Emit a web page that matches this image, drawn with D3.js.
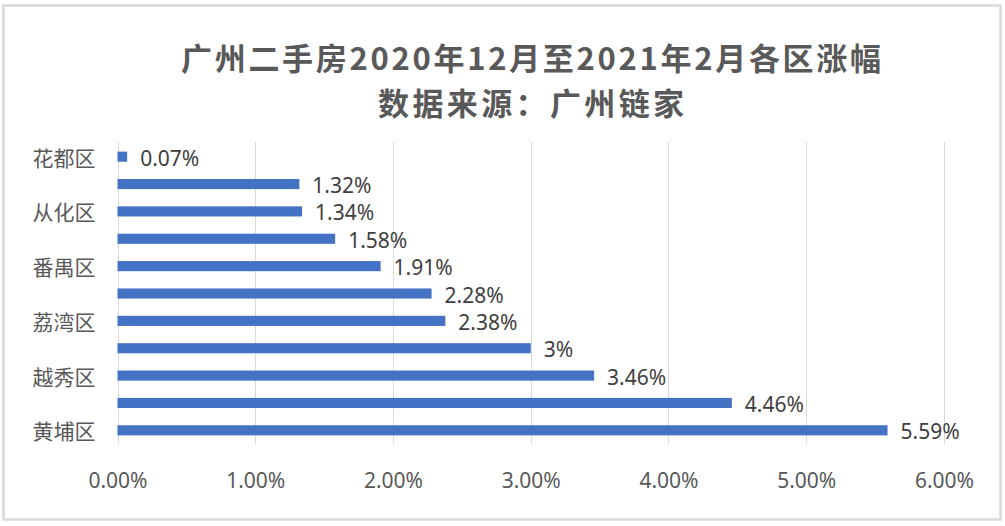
<!DOCTYPE html>
<html>
<head>
<meta charset="utf-8">
<script src="https://cdn.jsdelivr.net/npm/d3@7"></script>
<style>
  html, body { margin: 0; padding: 0; background: #fff; }
  svg { display: block; }
</style>
</head>
<body>
<svg id="chart" width="1005" height="526"></svg>
<script>
// ---- data ----
const categories = ['花都区','增城区','从化区','南沙区','番禺区','白云区','荔湾区','海珠区','越秀区','天河区','黄埔区'];
const shownCategories = ['花都区','从化区','番禺区','荔湾区','越秀区','黄埔区'];
const values = [0.07, 1.32, 1.34, 1.58, 1.91, 2.28, 2.38, 3, 3.46, 4.46, 5.59];
const valueLabels = ['0.07%','1.32%','1.34%','1.58%','1.91%','2.28%','2.38%','3%','3.46%','4.46%','5.59%'];
const tickValues = [0, 1, 2, 3, 4, 5, 6];
const tickLabels = ['0.00%','1.00%','2.00%','3.00%','4.00%','5.00%','6.00%'];
const titleLines = ['广州二手房2020年12月至2021年2月各区涨幅', '数据来源：广州链家'];
const titleWidths = [700, 306];

// ---- layout ----
const svg = d3.select('#chart');
const plot = { left: 117.5, right: 944, top: 143, bottom: 444 };
const textFont = '"Noto Sans", "Noto Sans CJK SC", sans-serif';

// border
svg.append('rect')
  .attr('x', 3.5).attr('y', 5.5).attr('width', 997).attr('height', 514)
  .attr('fill', '#fff').attr('stroke', '#d9d9d9').attr('stroke-width', 2.5);

// title
svg.append('g').selectAll('text').data(titleLines).join('text')
  .attr('x', 531)
  .attr('y', (d, i) => 56 + i * 45)
  .attr('text-anchor', 'middle')
  .attr('dominant-baseline', 'central')
  .attr('font-family', '"Noto Sans CJK SC", sans-serif')
  .attr('font-weight', 'bold')
  .attr('font-size', 31)
  .attr('textLength', (d, i) => titleWidths[i])
  .attr('lengthAdjust', 'spacing')
  .attr('fill', '#595959')
  .text(d => d);

const x = d3.scaleLinear().domain([0, 6]).range([plot.left, plot.right]);
const y = d3.scaleBand().domain(categories).range([plot.top, plot.bottom])
  .paddingInner(0.63).paddingOuter(0.315);

// gridlines
svg.append('g').selectAll('line').data(tickValues).join('line')
  .attr('x1', d => Math.round(x(d)) + 0.5).attr('x2', d => Math.round(x(d)) + 0.5)
  .attr('y1', plot.top - 1).attr('y2', plot.bottom)
  .attr('stroke', '#d9d9d9').attr('stroke-width', 1);

// x axis labels
const xAxis = d3.axisBottom(x).tickValues(tickValues)
  .tickFormat((d, i) => tickLabels[i]).tickSize(0).tickPadding(0);
const gx = svg.append('g').attr('transform', `translate(0, ${plot.bottom + 36})`).call(xAxis);
gx.select('.domain').remove();
gx.selectAll('text')
  .attr('dy', null)
  .attr('y', 0)
  .attr('dominant-baseline', 'central')
  .attr('font-family', textFont).attr('font-size', 21).attr('fill', '#595959');

// y axis labels (every other category shown)
const yAxis = d3.axisLeft(y).tickSize(0).tickPadding(0)
  .tickFormat(d => shownCategories.includes(d) ? d : '');
const gy = svg.append('g').attr('transform', `translate(${plot.left - 22}, 0)`).call(yAxis);
gy.select('.domain').remove();
gy.selectAll('text')
  .attr('dy', null)
  .attr('x', 0)
  .attr('dominant-baseline', 'central')
  .attr('font-family', '"Noto Sans CJK SC", sans-serif').attr('font-size', 21).attr('fill', '#595959');

// bars
svg.append('g').selectAll('rect').data(categories).join('rect')
  .attr('x', x(0))
  .attr('y', d => y(d))
  .attr('width', (d, i) => x(values[i]) - x(0))
  .attr('height', y.bandwidth())
  .attr('fill', '#4472c4');

// value labels
svg.append('g').selectAll('text').data(categories).join('text')
  .attr('x', (d, i) => x(values[i]) + 13)
  .attr('y', d => y(d) + y.bandwidth() / 2 + 1)
  .attr('dominant-baseline', 'central')
  .attr('font-family', textFont).attr('font-size', 21).attr('fill', '#404040')
  .text((d, i) => valueLabels[i]);
</script>
</body>
</html>
